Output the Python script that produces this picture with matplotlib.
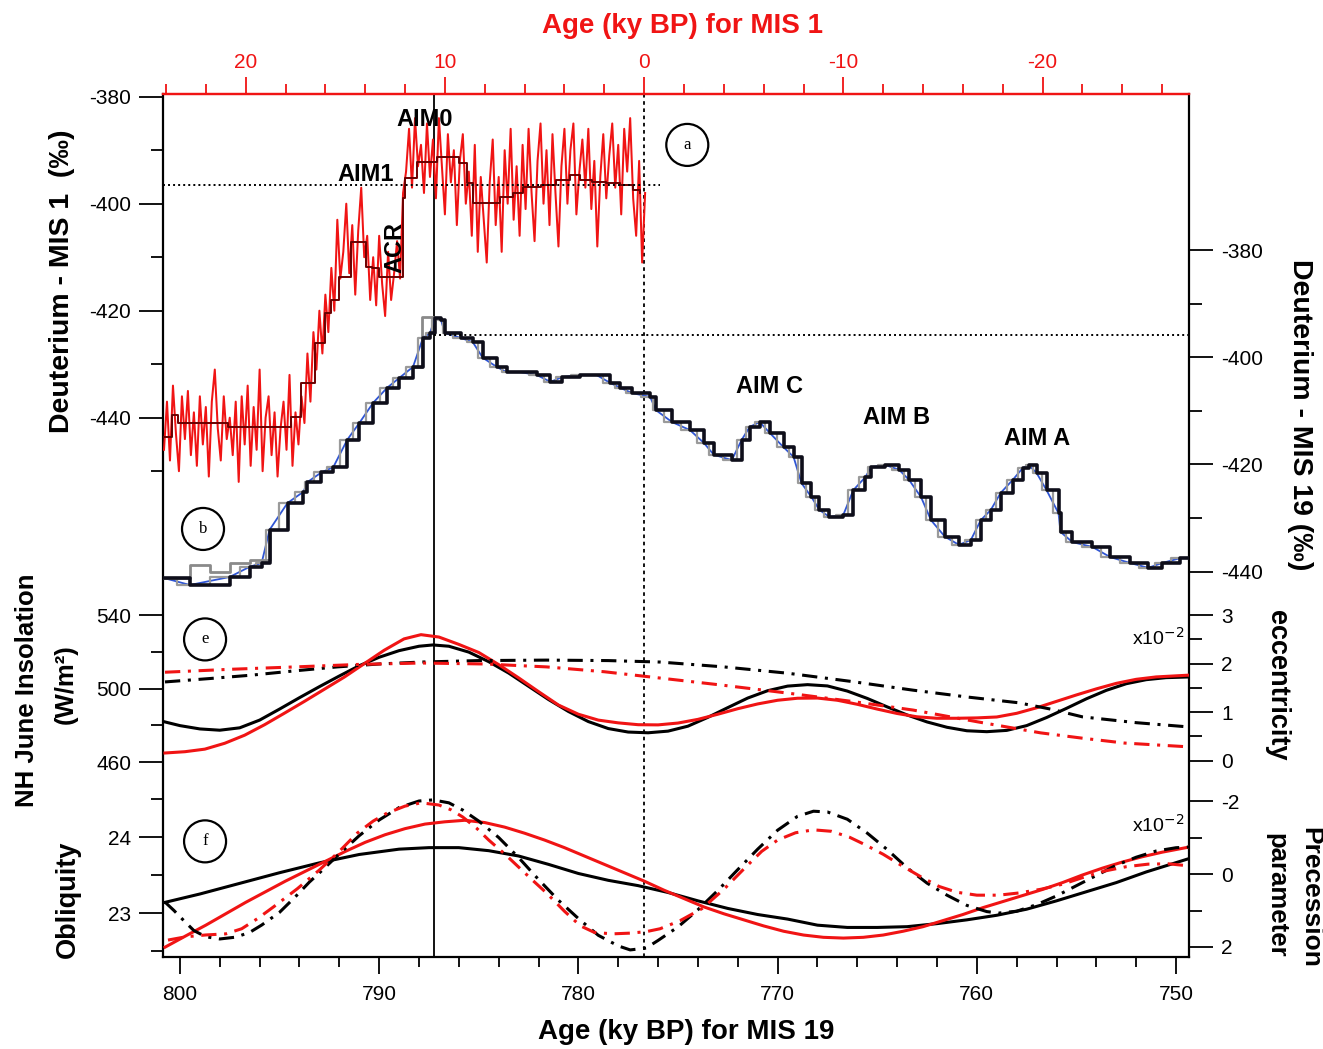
import numpy as np
import matplotlib.pyplot as plt

plt.rcParams['axes.unicode_minus'] = False
plt.rcParams['font.family'] = ['Liberation Sans', 'DejaVu Sans']

AGE_SHIFT = 776.7        # MIS 19 age that lines up with 0 ky BP of MIS 1
AIM0_MARK = 787.25       # vertical marker on the MIS 19 timescale
PEAK_MIS1 = -396.5       # dotted reference levels
PEAK_MIS19 = -395.9

# ---------------- MIS 1 deuterium (top timescale, left axis) ----------------
mis1_raw = [
    -446, -437, -448, -434, -443, -450, -436, -444, -435, -447,
    -439, -449, -436, -445, -438, -451, -437, -431, -442, -448,
    -436, -444, -440, -447, -437, -452, -436, -445, -434, -449,
    -438, -446, -431, -450, -440, -436, -447, -439, -451, -442,
    -437, -446, -432, -449, -439, -445, -436, -441, -428, -437,
    -424, -431, -420, -428, -417, -424, -412, -420, -403, -414,
    -409, -400, -413, -404, -417, -405, -397, -410, -406, -418,
    -410, -419, -406, -415, -421, -409, -418, -413, -407, -414,
    -398, -394, -386, -397, -384, -393, -389, -398, -385, -395,
    -388, -399, -384, -393, -402, -387, -396, -390, -404, -392,
    -387, -400, -394, -406, -389, -409, -395, -403, -411, -396,
    -388, -404, -395, -409, -390, -400, -386, -403, -393, -406,
    -389, -401, -386, -398, -407, -392, -385, -400, -390, -404,
    -387, -398, -408, -393, -386, -400, -390, -385, -402, -394,
    -388, -397, -386, -401, -392, -408, -395, -387, -399, -391,
    -385, -397, -389, -402, -386, -394, -384, -399, -406, -392,
    -411, -398,
]
mis1_age = np.linspace(24.1, -0.05, len(mis1_raw))

mis1_smooth_age = [24.1, 23.7, 23.4, 22.4, 20.9, 18.0, 17.7, 17.2, 16.5, 16.0,
                   15.7, 15.3, 14.7, 14.3, 13.95, 13.65, 13.3, 12.5, 12.1, 12.0,
                   11.4, 10.4, 9.3, 8.9, 8.6, 7.9, 7.25, 6.6, 6.1, 5.2,
                   4.4, 3.7, 3.2, 2.6, 1.9, 1.2, 0.55, 0.2]
mis1_smooth = [-443.6, -439.5, -441.0, -441.0, -441.7, -441.7, -439.9, -433.5, -426.0, -420.5,
               -418.0, -413.7, -407.2, -407.2, -411.8, -412.0, -413.7, -413.7, -399.0, -395.2,
               -392.2, -391.3, -392.4, -396.1, -399.9, -399.9, -398.8, -398.0, -396.9, -396.5,
               -395.6, -394.6, -395.6, -396.0, -396.2, -396.5, -397.4, -398.0]

# ---------------- MIS 19 deuterium (bottom timescale, right axis) ----------------
mis19_age = [800.8, 799.5, 797.5, 796.5, 795.9, 795.5, 794.6, 793.8, 793.6, 792.9,
             792.3, 791.6, 791.0, 790.3, 789.6, 789.0, 788.3, 787.8, 787.45, 787.2,
             786.9, 786.7, 785.9, 785.3, 784.8, 784.1, 783.6, 782.9, 782.1, 781.4,
             780.8, 779.9, 779.1, 778.4, 777.9, 777.3, 776.4, 776.1, 775.3, 774.4,
             773.7, 773.2, 772.3, 771.8, 771.4, 770.9, 770.4, 769.7, 769.2, 768.8,
             768.3, 767.9, 767.4, 766.7, 766.2, 765.6, 765.3, 764.6, 763.9, 763.4,
             762.8, 762.3, 761.6, 760.9, 760.3, 759.8, 759.3, 758.8, 758.2, 757.7,
             757.4, 757.0, 756.5, 755.9, 755.8, 755.2, 754.2, 753.3, 752.3, 751.4,
             750.7, 749.8, 749.3]
mis19_dd = [-441.2, -442.5, -441.0, -439.1, -438.4, -432.2, -427.2, -425.1, -423.3, -421.5,
            -420.5, -415.4, -412.3, -408.5, -405.7, -403.9, -401.8, -396.4, -395.5, -392.7,
            -393.0, -395.5, -396.4, -397.2, -400.1, -401.8, -402.8, -402.8, -403.3, -404.6,
            -403.7, -403.3, -403.3, -404.8, -405.7, -406.7, -407.4, -409.9, -412.1, -413.6,
            -416.0, -418.2, -419.2, -415.4, -413.0, -412.1, -414.1, -416.8, -418.6, -423.5,
            -426.1, -428.5, -429.8, -429.4, -424.8, -422.4, -420.5, -420.1, -421.0, -422.9,
            -426.1, -430.4, -433.5, -435.0, -434.1, -430.4, -428.5, -425.3, -422.9, -420.7,
            -420.1, -421.6, -424.8, -429.1, -432.6, -434.5, -435.4, -437.3, -438.4, -439.3,
            -438.4, -437.5, -437.5]

# second (grey) record where it departs from the black one
mis19_alt_age = [800.8, 799.5, 798.5, 797.5, 796.5, 795.5, np.nan, 788.3, 787.85, 787.3]
mis19_alt = [-441.2, -438.8, -440.1, -438.4, -437.8, -432.2, np.nan, -401.8, -392.5, -392.5]

# ---------------- orbital parameters ----------------
# NH June insolation (W/m2): MIS 19 (black), MIS 1 (red, MIS 1 ages)
ins19_age = [800.75, 800.0, 799.0, 798.0, 797.0, 796.0, 795.0, 794.0, 793.0, 792.0,
             791.0, 790.0, 789.0, 788.0, 787.3, 786.5, 785.5, 784.5, 783.5, 782.5,
             781.5, 780.5, 779.5, 778.5, 777.5, 776.5, 775.5, 774.5, 773.5, 772.5,
             771.5, 770.5, 769.5, 768.5, 767.5, 766.5, 765.5, 764.5, 763.5, 762.5,
             761.5, 760.5, 759.5, 758.5, 757.5, 756.5, 755.5, 754.5, 753.5, 752.5,
             751.5, 750.5, 749.3]
ins19 = [481.8, 479.8, 478.0, 477.3, 478.6, 482.8, 488.8, 495.0, 501.0, 506.8,
         512.4, 517.0, 520.6, 523.0, 523.7, 523.0, 519.8, 514.6, 508.4, 501.2,
         494.0, 487.5, 482.0, 478.2, 476.3, 475.9, 476.8, 479.5, 484.3, 489.6,
         494.8, 498.8, 501.3, 502.1, 501.4, 498.6, 494.6, 490.0, 485.6, 481.8,
         478.9, 477.0, 476.5, 477.2, 479.8, 484.2, 489.2, 494.4, 499.0, 502.6,
         504.8, 505.9, 506.3]
ins1_age = [24.05, 23.05, 22.05, 21.05, 20.05, 19.05, 18.05, 17.05, 16.05, 15.05,
            14.05, 13.05, 12.05, 11.2, 10.3, 9.3, 8.3, 7.3, 6.3, 5.3,
            4.3, 3.3, 2.3, 1.3, 0.3, -0.7, -1.7, -2.7, -3.7, -4.7,
            -5.7, -6.7, -7.7, -8.7, -9.7, -10.7, -11.7, -12.7, -13.7, -14.7,
            -15.7, -16.7, -17.7, -18.7, -19.7, -20.7, -21.7, -22.7, -23.7, -24.7,
            -25.7, -27.4]
ins1 = [464.9, 465.6, 467.0, 470.2, 474.6, 480.3, 486.6, 493.0, 499.6, 506.2,
        513.5, 520.8, 527.0, 529.3, 528.0, 524.0, 519.6, 513.0, 505.8, 498.3,
        491.0, 486.0, 482.8, 481.3, 480.3, 480.2, 481.2, 483.2, 486.0, 489.0,
        491.6, 493.6, 494.7, 494.8, 493.6, 491.4, 488.8, 486.4, 484.6, 483.8,
        483.8, 484.0, 484.5, 486.5, 489.5, 493.0, 496.5, 499.8, 502.8, 505.0,
        506.3, 507.3]

# eccentricity (x10^-2)
ecc19_age = [800.75, 798.5, 796.4, 794.2, 792.1, 790.0, 787.9, 785.0, 781.6, 778.5,
             775.9, 772.7, 769.5, 766.3, 763.2, 760.5, 757.9, 756.3, 754.7, 752.0,
             749.3]
ecc19 = [1.62, 1.69, 1.76, 1.85, 1.93, 1.99, 2.03, 2.06, 2.07, 2.06,
         2.03, 1.93, 1.80, 1.63, 1.45, 1.31, 1.19, 1.06, 0.90, 0.78,
         0.69]
ecc1_age = [24.05, 20.8, 17.5, 14.4, 11.2, 8.0, 4.9, 2.0, -0.8, -4.0,
            -7.2, -10.4, -13.5, -16.7, -19.9, -22.0, -24.1, -27.4]
ecc1 = [1.82, 1.88, 1.93, 1.98, 2.01, 1.99, 1.93, 1.83, 1.70, 1.55,
        1.39, 1.22, 1.04, 0.80, 0.57, 0.46, 0.36, 0.28]

# obliquity (degrees)
obl19_age = [800.75, 799.0, 797.0, 795.0, 793.0, 791.0, 789.0, 787.5, 786.0, 784.5,
             783.0, 781.5, 780.0, 778.5, 777.0, 775.5, 774.0, 772.5, 771.0, 769.5,
             768.0, 766.5, 765.0, 763.5, 762.0, 760.5, 759.0, 757.5, 756.0, 754.5,
             753.0, 751.5, 749.3]
obl19 = [23.14, 23.25, 23.39, 23.53, 23.66, 23.77, 23.84, 23.86, 23.86, 23.82,
         23.75, 23.64, 23.52, 23.43, 23.36, 23.27, 23.16, 23.06, 22.98, 22.92,
         22.84, 22.81, 22.81, 22.82, 22.86, 22.91, 22.97, 23.05, 23.16, 23.28,
         23.40, 23.54, 23.72]
obl1_age = [24.05, 23.0, 22.0, 21.0, 20.0, 19.0, 18.0, 17.0, 16.0, 15.0,
            14.0, 13.0, 12.0, 11.0, 10.0, 9.0, 8.0, 7.0, 6.0, 5.0,
            4.0, 3.0, 2.0, 1.0, 0.0, -1.0, -2.0, -3.0, -4.0, -5.0,
            -6.0, -7.0, -8.0, -9.0, -10.0, -11.0, -12.0, -13.0, -14.0, -15.0,
            -16.0, -17.0, -18.0, -19.0, -20.0, -21.0, -22.0, -23.0, -24.0, -25.0,
            -26.0, -27.4]
obl1 = [22.55, 22.70, 22.84, 22.99, 23.14, 23.28, 23.42, 23.55, 23.68, 23.81,
        23.93, 24.03, 24.11, 24.17, 24.20, 24.22, 24.19, 24.13, 24.05, 23.96,
        23.86, 23.75, 23.64, 23.53, 23.42, 23.30, 23.19, 23.08, 22.99, 22.91,
        22.83, 22.76, 22.71, 22.68, 22.67, 22.68, 22.71, 22.76, 22.82, 22.90,
        22.98, 23.07, 23.15, 23.23, 23.31, 23.40, 23.50, 23.59, 23.67, 23.74,
        23.80, 23.87]

# precession parameter (x10^-2)
pre19_age = [800.75, 800.3, 799.8, 799.3, 798.7, 798.0, 797.2, 796.5, 795.9, 795.0,
             794.2, 793.5, 793.0, 792.0, 791.0, 790.0, 789.0, 788.0, 787.3, 786.5,
             785.8, 785.0, 784.0, 783.0, 782.0, 781.0, 780.0, 779.0, 778.0, 777.4,
             776.6, 776.0, 775.0, 774.0, 773.0, 772.0, 771.0, 770.0, 769.0, 768.2,
             767.5, 766.5, 765.5, 764.5, 763.5, 762.5, 761.5, 760.5, 759.5, 758.9,
             758.0, 757.0, 756.0, 755.0, 754.0, 753.0, 752.0, 751.0, 750.0, 749.3]
pre19 = [0.77, 1.00, 1.28, 1.55, 1.72, 1.78, 1.73, 1.60, 1.40, 1.05,
         0.62, 0.22, -0.03, -0.55, -1.05, -1.48, -1.82, -2.00, -2.03, -1.95,
         -1.75, -1.45, -1.00, -0.45, 0.15, 0.72, 1.22, 1.68, 1.97, 2.08,
         2.03, 1.82, 1.45, 0.98, 0.45, -0.12, -0.68, -1.20, -1.58, -1.72,
         -1.70, -1.50, -1.12, -0.67, -0.17, 0.25, 0.58, 0.86, 1.03, 1.07,
         1.02, 0.84, 0.60, 0.32, 0.04, -0.24, -0.46, -0.63, -0.72, -0.74]
pre1_age = [23.9, 23.0, 22.0, 21.0, 20.2, 19.4, 18.6, 17.4, 16.3, 15.3,
            14.4, 13.6, 12.9, 12.0, 11.2, 10.3, 9.7, 9.1, 8.4, 7.8,
            7.0, 6.3, 5.6, 4.9, 4.0, 3.2, 2.5, 1.6, 0.7, -0.1,
            -0.8, -1.8, -2.9, -4.0, -5.1, -5.9, -6.7, -7.6, -8.5, -9.4,
            -10.3, -11.1, -12.0, -12.9, -13.9, -14.8, -15.7, -16.7, -17.8, -18.8,
            -19.9, -21.0, -22.0, -23.1, -24.2, -25.3, -26.3, -27.4]
pre1 = [1.81, 1.72, 1.67, 1.64, 1.50, 1.22, 0.90, 0.40, -0.11, -0.62,
        -1.12, -1.45, -1.67, -1.86, -1.95, -1.89, -1.76, -1.56, -1.25, -0.93,
        -0.55, -0.19, 0.17, 0.52, 1.02, 1.42, 1.60, 1.64, 1.62, 1.58,
        1.50, 1.28, 0.95, 0.42, -0.19, -0.62, -0.93, -1.13, -1.21, -1.17,
        -1.01, -0.80, -0.54, -0.24, 0.08, 0.34, 0.50, 0.58, 0.58, 0.52,
        0.42, 0.28, 0.10, -0.08, -0.20, -0.27, -0.28, -0.22]


def shifted(ages):
    return np.asarray(ages, dtype=float) + AGE_SHIFT


W, H = 1323, 1049
L, R, T, B = 163, 1189, 94, 957
RED = '#f01414'
fig = plt.figure(figsize=(W / 100, H / 100), dpi=100)
ax = fig.add_axes([L / W, 1 - B / H, (R - L) / W, (B - T) / H])
ax.set_xlim(800.85, 749.35)
ax.set_xticks([800, 790, 780, 770, 760, 750])
ax.set_xticks(np.arange(752, 800, 2), minor=True)
ax.set_yticks([])
ax.tick_params(axis='x', which='major', direction='out', length=12.5, width=1.3, pad=8, labelsize=15)
ax.tick_params(axis='x', which='minor', direction='out', length=7.5, width=1.3)
for s in ax.spines.values():
    s.set_linewidth(1.6)
ax.spines['top'].set_color(RED)

top = ax.secondary_xaxis('top', functions=(lambda a: a - AGE_SHIFT, lambda a: a + AGE_SHIFT))
top.set_ticks([20, 10, 0, -10, -20], labels=['20', '10', '0', '-10', '-20'])
top.set_ticks(np.arange(-26, 25, 2), minor=True)
top.tick_params(which='both', colors=RED, direction='out', width=1.3)
top.tick_params(which='major', length=12.5, pad=3, labelsize=15)
top.tick_params(which='minor', length=7.5)
top.spines['top'].set_color(RED)
top.spines['top'].set_linewidth(1.6)

ax.axvline(AIM0_MARK, color='k', lw=1.3)
ax.axvline(AGE_SHIFT, color='k', lw=1.3, ls=(0, (2, 2)))


def scale_axis(side, v0, y0, ppu, major, minor):
    # twin y-scale whose value v0 sits at figure row y0, ppu pixels per unit
    tw = ax.twinx()
    tw.set_ylim(v0 - (B - y0) / ppu, v0 + (y0 - T) / ppu)
    if side == 'left':
        tw.yaxis.tick_left()
    tw.set_yticks(major, labels=[f'{m:g}' for m in major])
    tw.set_yticks(minor, minor=True)
    tw.tick_params(axis='y', which='major', direction='out', length=17, width=1.3, pad=6, labelsize=15)
    tw.tick_params(axis='y', which='minor', direction='out', length=9, width=1.3)
    for s in tw.spines.values():
        s.set_visible(False)
    return tw


ax_d1 = scale_axis('left', -380, 96.7, 5.35, [-380, -400, -420, -440], [-390, -410, -430, -450])
ax_d19 = scale_axis('right', -380, 250, 5.36, [-380, -400, -420, -440], [-390, -410, -430])
ax_ins = scale_axis('left', 540, 615, 1.8375, [540, 500, 460], [520, 480])
ax_ecc = scale_axis('right', 3, 615, 48.5, [3, 2, 1, 0], [2.5, 1.5, 0.5])
ax_obl = scale_axis('left', 24, 837, 76, [24, 23], [24.5, 23.5, 22.5])
ax_pre = scale_axis('right', 0, 874, -36.5, [-2, 0, 2], [-1, 1])

# deuterium records
ax_d1.plot(shifted(mis1_age), mis1_raw, color=RED, lw=1.45)
ax_d1.plot(shifted(mis1_smooth_age), mis1_smooth, color='#6a0000', lw=1.4, drawstyle='steps-post')
ax_d1.hlines(PEAK_MIS1, 800.85, AGE_SHIFT - 0.8, color='k', lw=1.4, ls=(0, (1, 1.6)))

ax_d19.plot(mis19_age, mis19_dd, color='#2f55d4', lw=1.3)
ax_d19.plot(mis19_age, mis19_dd, color='#9a9a9a', lw=1.6, drawstyle='steps-mid')
ax_d19.plot(mis19_alt_age, mis19_alt, color='#8a8a8a', lw=2.0, drawstyle='steps-post')
ax_d19.plot(mis19_age, mis19_dd, color='#0e0e1a', lw=2.6, drawstyle='steps-post')
ax_d19.hlines(PEAK_MIS19, AIM0_MARK, 749.35, color='k', lw=1.4, ls=(0, (1, 1.6)))

# orbital curves
dashdot = (0, (5, 2.5, 1, 2.5))
ax_ins.plot(ins19_age, ins19, color='k', lw=2.2)
ax_ins.plot(shifted(ins1_age), ins1, color=RED, lw=2.2)
ax_ecc.plot(ecc19_age, ecc19, color='k', lw=2.2, ls=dashdot)
ax_ecc.plot(shifted(ecc1_age), ecc1, color=RED, lw=2.2, ls=dashdot)
ax_obl.plot(obl19_age, obl19, color='k', lw=2.2)
ax_obl.plot(shifted(obl1_age), obl1, color=RED, lw=2.2)
ax_pre.plot(pre19_age, pre19, color='k', lw=2.2, ls=dashdot)
ax_pre.plot(shifted(pre1_age), pre1, color=RED, lw=2.2, ls=dashdot)

# event labels
bold = dict(fontsize=17, fontweight='bold', ha='center', va='center')
ax_d1.text(AGE_SHIFT + 11.03, -384.2, 'AIM0', **bold)
ax_d1.text(AGE_SHIFT + 14.0, -394.6, 'AIM1', **bold)
ax_d1.text(AGE_SHIFT + 12.5, -408.1, 'ACR', rotation=90, **bold)
ax_d19.text(770.4, -405.4, 'AIM C', **bold)
ax_d19.text(764.05, -411.2, 'AIM B', **bold)
ax_d19.text(757.0, -415.1, 'AIM A', **bold)

circ = dict(boxstyle='circle,pad=0.78', fc='none', ec='k', lw=1.6)
for letter, (px, py) in zip('abef', [(0.511, 0.941), (0.039, 0.496), (0.041, 0.368), (0.041, 0.134)]):
    ax_pre.text(px, py, letter, transform=ax_pre.transAxes, family=['Liberation Serif', 'DejaVu Serif'],
                fontsize=12, ha='center', va='center', bbox=circ)

for py in (0.370, 0.153):
    ax_pre.text(0.995, py, r'x10$^{-2}$', transform=ax_pre.transAxes, fontsize=14,
                ha='right', va='center')


def label(x, y, s, rot=0, size=20, color='k'):
    fig.text(x / W, 1 - y / H, s, rotation=rot, fontsize=size, fontweight='bold',
             color=color, ha='center', va='center')


label(683, 26, 'Age (ky BP) for MIS 1', color=RED)
label(686, 1032, 'Age (ky BP) for MIS 19')
label(62, 281, 'Deuterium - MIS 1  (\u2030)', rot=90, size=20.5)
label(27, 690, 'NH June Insolation', rot=90, size=18.5)
label(66, 684, '(W/m\u00b2)', rot=90, size=18.5)
label(68, 899, 'Obliquity', rot=90, size=19.5)
label(1300, 415, 'Deuterium - MIS 19 (\u2030)', rot=270, size=20.5)
label(1277, 685, 'eccentricity', rot=270, size=19.5)
label(1310, 897, 'Precession', rot=270, size=19)
label(1276, 895, 'parameter', rot=270, size=18.5)

fig.savefig('out.png', dpi=100)
